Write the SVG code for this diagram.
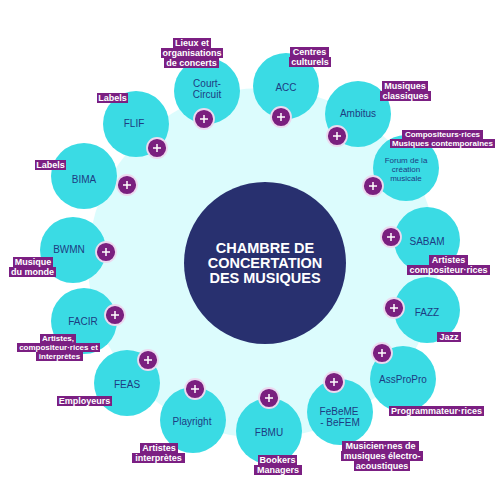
<svg xmlns="http://www.w3.org/2000/svg" xmlns:xlink="http://www.w3.org/1999/xlink" width="500" height="500" viewBox="0 0 500 500">
<style>
.node{fill:#3adbe4}
.nt{font-family:"Liberation Sans",Arial,sans-serif;font-size:10px;fill:#1d3c82;text-anchor:middle}
.ns{font-size:8px}
.lb{fill:#7b1f82}
.lt{font-family:"Liberation Sans",Arial,sans-serif;font-weight:bold;font-size:9px;fill:#ffffff;text-anchor:middle}
.ls{font-size:8px}
.ct{font-family:"Liberation Sans",Arial,sans-serif;font-weight:bold;font-size:14.5px;fill:#ffffff;text-anchor:middle}
</style>
<defs>
<g id="plus">
<circle r="10" fill="#7a1f7f" stroke="#ecd9ef" stroke-width="1.8"/>
<path d="M-4 0H4M0 -4V4" stroke="#ffffff" stroke-width="1.5" fill="none"/>
</g>
</defs>
<rect width="500" height="500" fill="#ffffff"/>
<circle id="background" cx="263" cy="263" r="175" fill="#dcfcfd"/>
<g id="center">
<circle cx="265" cy="263" r="81" fill="#28306f"/>
<text class="ct" x="265" y="253">CHAMBRE DE</text>
<text class="ct" x="265" y="268">CONCERTATION</text>
<text class="ct" x="265" y="283">DES MUSIQUES</text>
</g>
<g id="court-circuit">
<circle class="node" cx="207" cy="91" r="33"/>
<text class="nt" x="207" y="86.5">Court-</text>
<text class="nt" x="207" y="97.5">Circuit</text>
<use xlink:href="#plus" x="204" y="119"/>
<rect class="lb" x="173" y="38" width="38" height="10"/><text class="lt" x="192" y="46.2">Lieux et</text>
<rect class="lb" x="161" y="48" width="62" height="10"/><text class="lt" x="192" y="56.2">organisations</text>
<rect class="lb" x="164" y="58" width="55" height="10"/><text class="lt" x="191.5" y="66.2">de concerts</text>
</g>
<g id="acc">
<circle class="node" cx="286" cy="86" r="33"/>
<text class="nt" x="286" y="90.5">ACC</text>
<use xlink:href="#plus" x="281" y="117"/>
<rect class="lb" x="290" y="47" width="39" height="10"/><text class="lt" x="309.5" y="55.2">Centres</text>
<rect class="lb" x="289" y="57" width="42" height="10"/><text class="lt" x="310" y="65.2">culturels</text>
</g>
<g id="ambitus">
<circle class="node" cx="358" cy="114" r="33"/>
<text class="nt" x="358" y="116.5">Ambitus</text>
<use xlink:href="#plus" x="337" y="136"/>
<rect class="lb" x="382" y="81" width="46" height="10"/><text class="lt" x="405" y="89.2">Musiques</text>
<rect class="lb" x="380" y="91" width="51" height="10"/><text class="lt" x="405.5" y="99.2">classiques</text>
</g>
<g id="forum">
<circle class="node" cx="406" cy="168" r="33"/>
<text class="nt ns" x="406" y="163">Forum de la</text>
<text class="nt ns" x="406" y="172">création</text>
<text class="nt ns" x="406" y="181">musicale</text>
<use xlink:href="#plus" x="373" y="186"/>
<rect class="lb" x="402" y="130" width="81" height="9"/><text class="lt ls" x="442.5" y="137.3">Compositeurs·rices</text>
<rect class="lb" x="390" y="139" width="105" height="9"/><text class="lt ls" x="442.5" y="146.3">Musiques contemporaines</text>
</g>
<g id="sabam">
<circle class="node" cx="427" cy="240" r="33"/>
<text class="nt" x="427" y="244.5">SABAM</text>
<use xlink:href="#plus" x="391" y="237"/>
<rect class="lb" x="429" y="255" width="39" height="10"/><text class="lt" x="448.5" y="263.2">Artistes</text>
<rect class="lb" x="407" y="265" width="83" height="10"/><text class="lt" x="448.5" y="273.2">compositeur·rices</text>
</g>
<g id="fazz">
<circle class="node" cx="427" cy="310" r="33"/>
<text class="nt" x="427" y="315.5">FAZZ</text>
<use xlink:href="#plus" x="394" y="308"/>
<rect class="lb" x="437" y="332" width="24" height="10"/><text class="lt" x="449" y="340.2">Jazz</text>
</g>
<g id="assPropro">
<circle class="node" cx="403" cy="379" r="33"/>
<text class="nt" x="403" y="382.5">AssProPro</text>
<use xlink:href="#plus" x="382" y="353"/>
<rect class="lb" x="389" y="406" width="95" height="10"/><text class="lt" x="436.5" y="414.2">Programmateur·rices</text>
</g>
<g id="febeme">
<circle class="node" cx="340" cy="412" r="33"/>
<text class="nt" x="339" y="414.5">FeBeME</text>
<text class="nt" x="340" y="425.5">- BeFEM</text>
<use xlink:href="#plus" x="334" y="382"/>
<rect class="lb" x="342" y="441" width="77" height="10"/><text class="lt" x="380.5" y="449.2">Musicien·nes de</text>
<rect class="lb" x="341" y="451" width="82" height="10"/><text class="lt" x="382" y="459.2">musiques électro-</text>
<rect class="lb" x="354" y="461" width="56" height="10"/><text class="lt" x="382" y="469.2">acoustiques</text>
</g>
<g id="fbmu">
<circle class="node" cx="269" cy="431" r="33"/>
<text class="nt" x="269" y="435.5">FBMU</text>
<use xlink:href="#plus" x="269" y="398"/>
<rect class="lb" x="258" y="455" width="39" height="10"/><text class="lt" x="277.5" y="463.2">Bookers</text>
<rect class="lb" x="254" y="465" width="48" height="10"/><text class="lt" x="278" y="473.2">Managers</text>
</g>
<g id="playright">
<circle class="node" cx="193" cy="420" r="33"/>
<text class="nt" x="192" y="424.5">Playright</text>
<use xlink:href="#plus" x="195" y="389"/>
<rect class="lb" x="140" y="443" width="38" height="10"/><text class="lt" x="159" y="451.2">Artistes</text>
<rect class="lb" x="132" y="453" width="53" height="10"/><text class="lt" x="158.5" y="461.2">interprètes</text>
</g>
<g id="feas">
<circle class="node" cx="127" cy="383" r="33"/>
<text class="nt" x="127" y="387.5">FEAS</text>
<use xlink:href="#plus" x="148" y="360"/>
<rect class="lb" x="57" y="396" width="55" height="10"/><text class="lt" x="84.5" y="404.2">Employeurs</text>
</g>
<g id="facir">
<circle class="node" cx="84" cy="321" r="33"/>
<text class="nt" x="83" y="324.5">FACIR</text>
<use xlink:href="#plus" x="115" y="315"/>
<rect class="lb" x="40" y="334" width="36" height="9"/><text class="lt ls" x="58" y="341.3">Artistes,</text>
<rect class="lb" x="17" y="343" width="83" height="9"/><text class="lt ls" x="58.5" y="350.3">compositeur·rices et</text>
<rect class="lb" x="36" y="352" width="47" height="9"/><text class="lt ls" x="59.5" y="359.3">interprètes</text>
</g>
<g id="bwmn">
<circle class="node" cx="73" cy="250" r="33"/>
<text class="nt" x="69" y="252.5">BWMN</text>
<use xlink:href="#plus" x="106" y="252"/>
<rect class="lb" x="13" y="257" width="40" height="10"/><text class="lt" x="33" y="265.2">Musique</text>
<rect class="lb" x="9" y="267" width="47" height="10"/><text class="lt" x="32.5" y="275.2">du monde</text>
</g>
<g id="bima">
<circle class="node" cx="84" cy="176" r="33"/>
<text class="nt" x="84" y="182.5">BIMA</text>
<use xlink:href="#plus" x="127" y="185"/>
<rect class="lb" x="35" y="160" width="31" height="10"/><text class="lt" x="50.5" y="168.2">Labels</text>
</g>
<g id="flif">
<circle class="node" cx="136" cy="124" r="33"/>
<text class="nt" x="134" y="126.5">FLIF</text>
<use xlink:href="#plus" x="157" y="148"/>
<rect class="lb" x="97" y="93" width="31" height="10"/><text class="lt" x="112.5" y="101.2">Labels</text>
</g>
</svg>
